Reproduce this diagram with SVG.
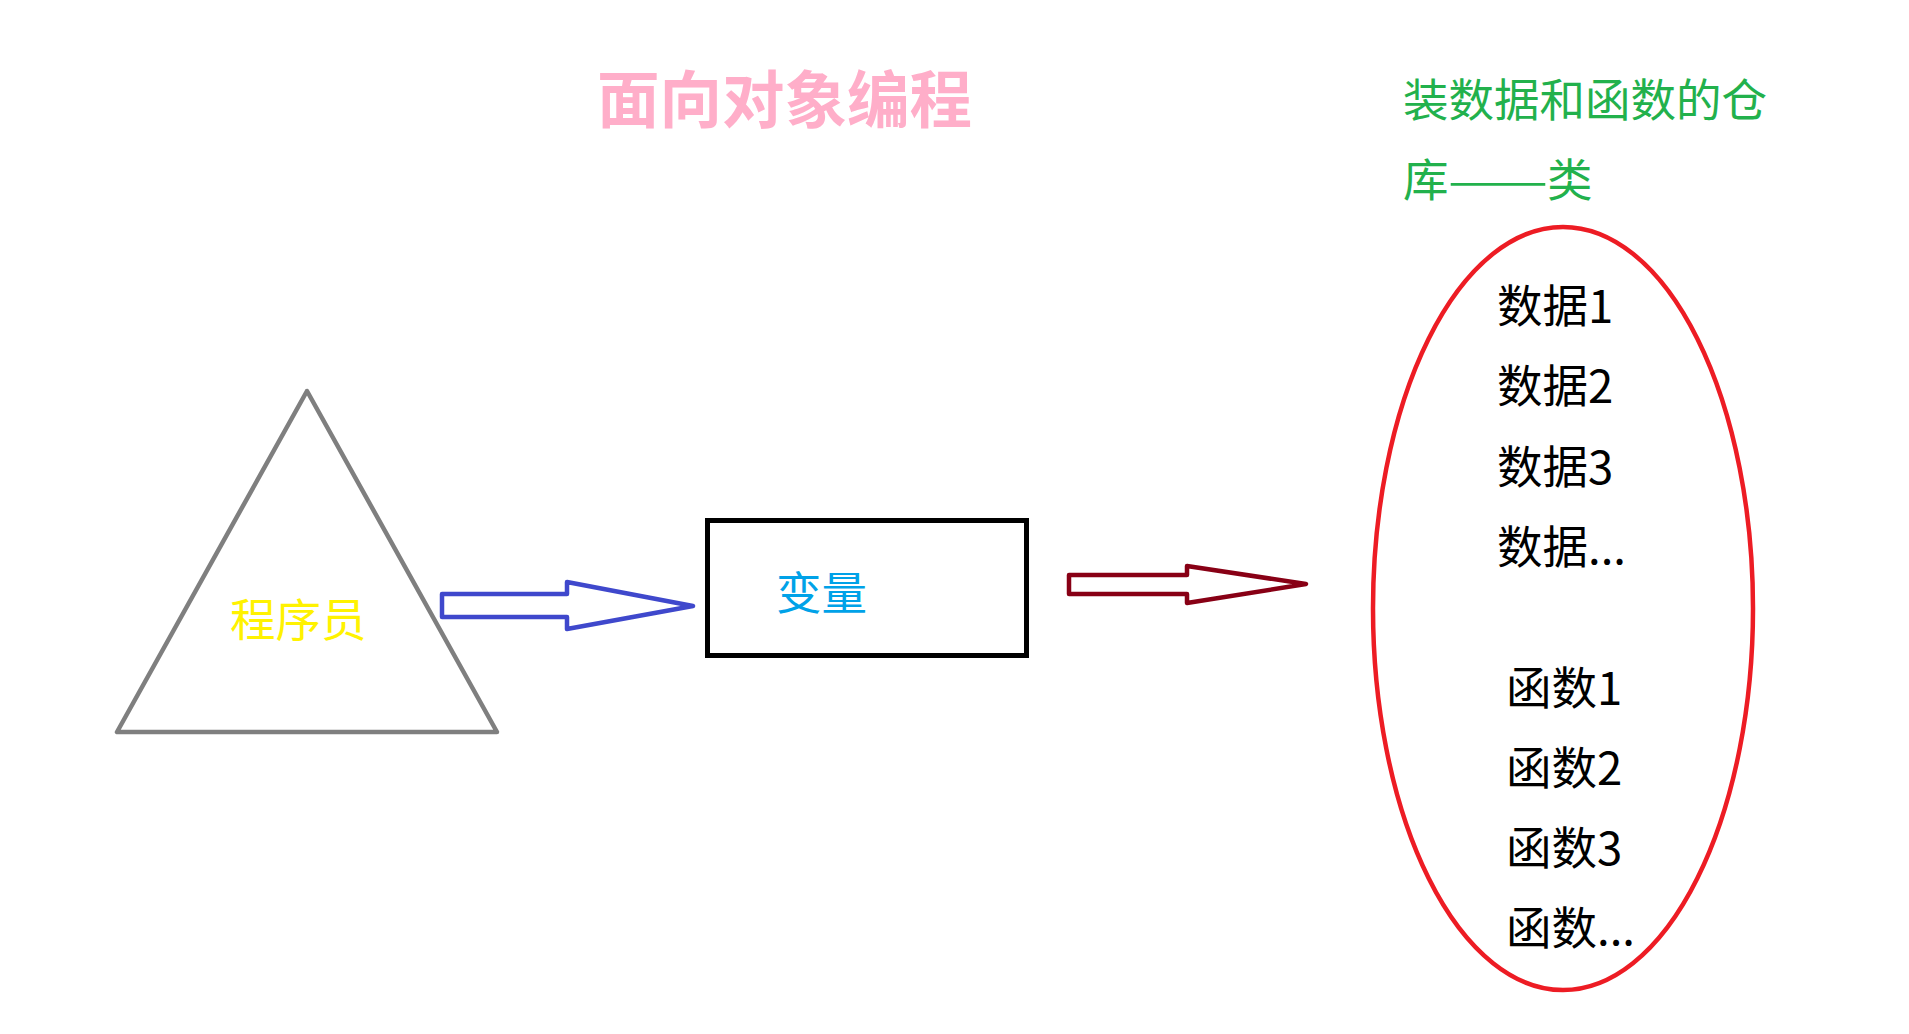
<svg xmlns="http://www.w3.org/2000/svg" width="1909" height="1034" viewBox="0 0 1909 1034">
<style>
text{font-family:"Noto Sans CJK SC","Microsoft YaHei",sans-serif;font-size:45.5px;}
.title{font-size:62.5px;font-weight:bold;fill:#ffaec9;}
.green{fill:#22b14c;}
.item{fill:#000000;}
.arrow{fill:#ffffff;stroke-width:4.5;stroke-linejoin:round;}
</style>
<rect x="0" y="0" width="1909" height="1034" fill="#ffffff"/>
<g id="title">
<text class="title" x="597" y="123">面向对象编程</text>
</g>
<g id="class-label">
<text class="green" x="1403" y="117">装数据和函数的仓</text>
<text class="green" x="1403" y="197">库<tspan x="1448" textLength="100" lengthAdjust="spacingAndGlyphs">——</tspan><tspan x="1547">类</tspan></text>
</g>
<g id="programmer">
<polygon points="307,391 117,732 497,732" fill="none" stroke="#7f7f7f" stroke-width="4.5" stroke-linejoin="round"/>
<text x="230" y="637" fill="#fff200">程序员</text>
</g>
<g id="variable">
<rect x="707.5" y="520.5" width="319" height="135" fill="none" stroke="#000000" stroke-width="5"/>
<text x="776" y="610" fill="#00a2e8">变量</text>
</g>
<g id="class">
<ellipse cx="1563" cy="608.5" rx="190" ry="381.5" fill="none" stroke="#ed1c24" stroke-width="4.5"/>
<text class="item" x="1497" y="323">数据1</text>
<text class="item" x="1497" y="403">数据2</text>
<text class="item" x="1497" y="484">数据3</text>
<text class="item" x="1497" y="564">数据...</text>
<text class="item" x="1506" y="705">函数1</text>
<text class="item" x="1506" y="785">函数2</text>
<text class="item" x="1506" y="865">函数3</text>
<text class="item" x="1506" y="945">函数...</text>
</g>
<g id="connectors">
<polygon class="arrow" stroke="#3f48cc" points="442,594 567,594 567,582 693,606 567,629 567,617 442,617"/>
<polygon class="arrow" stroke="#880015" points="1069,575 1187,575 1187,566 1306,584 1187,603 1187,594 1069,594"/>
</g>
</svg>
